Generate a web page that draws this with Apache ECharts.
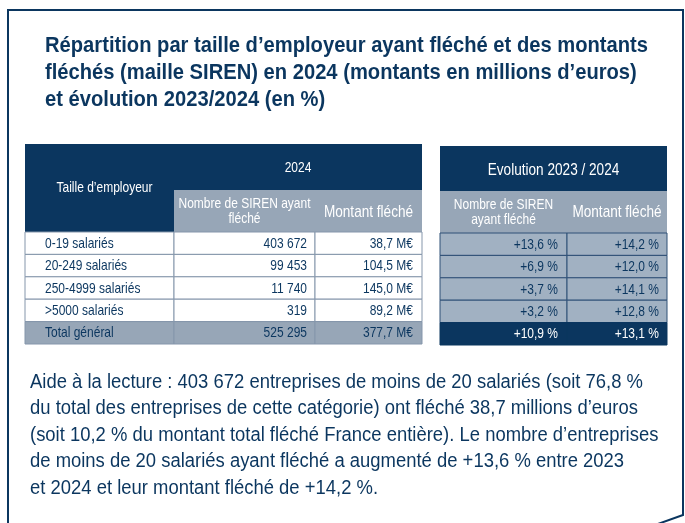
<!DOCTYPE html>
<html lang="fr">
<head>
<meta charset="UTF-8">
<title>Répartition par taille d'employeur</title>
<style>
  html, body { margin: 0; padding: 0; background: #fff; }
  #main { width: 685px; height: 523px; }
</style>
<script src="https://cdn.jsdelivr.net/npm/echarts@6/dist/echarts.min.js"></script>
</head>
<body>
<div id="main"></div>
<script>
// données
var categories = ['0-19 salariés', '20-249 salariés', '250-4999 salariés', '>5000 salariés', 'Total général'];
var siren2024 = [403672, 99453, 11740, 319, 525295];
var montant2024 = [38.7, 104.5, 145.0, 89.2, 377.7];
var evolSiren = [13.6, 6.9, 3.7, 3.2, 10.9];
var evolMontant = [14.2, 12.0, 14.1, 12.8, 13.1];

var titre = [
  'Répartition par taille d’employeur ayant fléché et des montants',
  'fléchés (maille SIREN) en 2024 (montants en millions d’euros)',
  'et évolution 2023/2024 (en %)'
];
var lecture = [
  'Aide à la lecture : 403 672 entreprises de moins de 20 salariés (soit 76,8 %',
  'du total des entreprises de cette catégorie) ont fléché 38,7 millions d’euros',
  '(soit 10,2 % du montant total fléché France entière). Le nombre d’entreprises',
  'de moins de 20 salariés ayant fléché a augmenté de +13,6 % entre 2023',
  'et 2024 et leur montant fléché de +14,2 %.'
];

var NAVY = '#0b365f';
var GREY = '#97a6b7';
var FONT = '"Liberation Sans", Arial, sans-serif';

// police étroite simulée : on mesure puis on compresse horizontalement
var ctx = document.createElement('canvas').getContext('2d');
function measure(s, size, bold) {
  ctx.font = (bold ? 'bold ' : '') + size + 'px ' + FONT;
  return ctx.measureText(s).width;
}
var titleScale = 603 / measure(titre[0], 22, true);
var bodyScale = 613 / measure(lecture[0], 20, false);
var tabScale = 0.8;

function fmtInt(v) { return String(v).replace(/\B(?=(\d{3})+(?!\d))/g, ' '); }
function fmtM(v) { return v.toFixed(1).replace('.', ',') + ' M€'; }
function fmtPct(v) { return '+' + v.toFixed(1).replace('.', ',') + ' %'; }

var g = [];
function rect(x, y, w, h, fill, stroke) {
  g.push({ type: 'rect', shape: { x: x, y: y, width: w, height: h },
    style: { fill: fill, stroke: stroke || null, lineWidth: stroke ? 1 : 0 } });
}
function txt(s, x, y, opt) {
  opt = opt || {};
  g.push({ type: 'text', x: x, y: y, z: 10, scaleX: opt.sx || tabScale, style: {
    text: s, fill: opt.fill || NAVY, align: opt.align || 'left', verticalAlign: 'middle',
    fontFamily: FONT, fontSize: opt.size || 14, fontWeight: opt.bold ? 'bold' : 'normal',
    lineHeight: opt.lh || 15 } });
}

// cadre
g.push({ type: 'polyline', shape: { points: [[8, 530], [8, 10], [683, 10], [683, 515], [655, 525]] },
  style: { stroke: NAVY, lineWidth: 2, fill: null } });

titre.forEach(function (l, i) {
  txt(l, 45, 46 + i * 27, { size: 22, bold: true, sx: titleScale });
});

// tableau gauche (2024)
var lc = [25, 174, 315, 422];
var lTop = 144, lSub = 190, lData = 232, rowH = 22.4;
rect(lc[0], lTop, lc[3] - lc[0], lData - lTop, NAVY);
rect(lc[1], lSub, lc[3] - lc[1], lData - lSub, GREY);
txt('Taille d’employeur', (lc[0] + lc[1]) / 2 + 5, 188, { fill: '#fff', align: 'center', size: 15 });
txt('2024', (lc[1] + lc[3]) / 2, 168, { fill: '#fff', align: 'center', size: 15 });
txt('Nombre de SIREN ayant\nfléché', (lc[1] + lc[2]) / 2, 211, { fill: '#fff', align: 'center', size: 15 });
txt('Montant fléché', (lc[2] + lc[3]) / 2, 212, { fill: '#fff', align: 'center', size: 17 });

categories.forEach(function (c, i) {
  var y = lData + i * rowH;
  var total = i === categories.length - 1;
  for (var k = 0; k < 3; k++) {
    rect(lc[k], y, lc[k + 1] - lc[k], rowH, total ? GREY : '#fff', '#8596ab');
  }
  var cy = y + rowH / 2 + 0.5;
  txt(c, lc[0] + 20, cy, { size: 15 });
  txt(fmtInt(siren2024[i]), lc[2] - 8, cy, { align: 'right', size: 15 });
  txt(fmtM(montant2024[i]), lc[3] - 9, cy, { align: 'right', size: 15 });
});

// tableau droit (évolution)
var rc = [440, 567, 667];
var rTop = 146, rSub = 191, rData = 233;
rect(rc[0], rTop, rc[2] - rc[0], rSub - rTop, NAVY);
rect(rc[0], rSub, rc[2] - rc[0], rData - rSub, GREY);
txt('Evolution 2023 / 2024', (rc[0] + rc[2]) / 2, 170, { fill: '#fff', align: 'center', size: 17 });
txt('Nombre de SIREN\nayant fléché', (rc[0] + rc[1]) / 2, 212, { fill: '#fff', align: 'center', size: 15 });
txt('Montant fléché', (rc[1] + rc[2]) / 2, 212, { fill: '#fff', align: 'center', size: 17 });

evolSiren.forEach(function (v, i) {
  var y = rData + i * rowH;
  var total = i === evolSiren.length - 1;
  for (var k = 0; k < 2; k++) {
    rect(rc[k], y, rc[k + 1] - rc[k], rowH, total ? NAVY : '#a1b1c2', total ? NAVY : '#2f5077');
  }
  var cy = y + rowH / 2 + 0.5;
  var col = total ? '#fff' : NAVY;
  txt(fmtPct(v), rc[1] - 9, cy, { align: 'right', size: 15, fill: col });
  txt(fmtPct(evolMontant[i]), rc[2] - 8, cy, { align: 'right', size: 15, fill: col });
});

lecture.forEach(function (l, i) {
  txt(l, 30, 382 + i * 26.5, { size: 20, sx: bodyScale });
});

var myChart = echarts.init(document.getElementById('main'));
myChart.setOption({ animation: false, graphic: g });
</script>
</body>
</html>
